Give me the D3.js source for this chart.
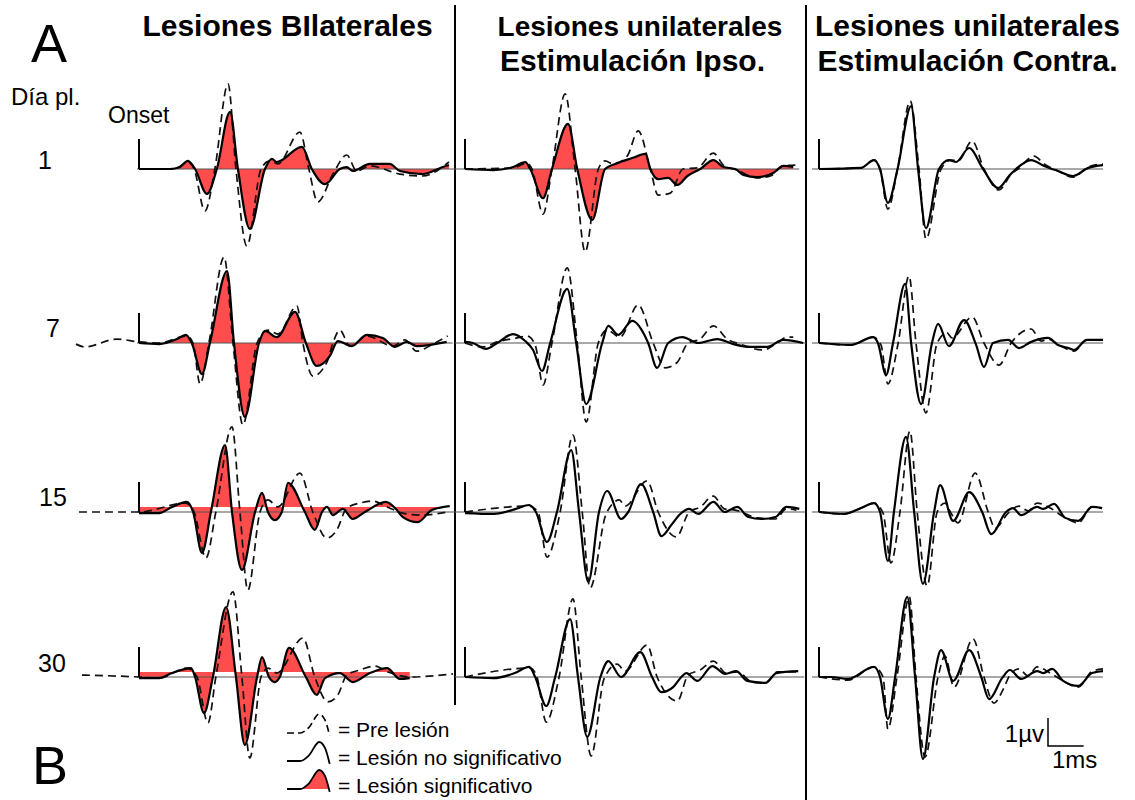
<!DOCTYPE html>
<html>
<head>
<meta charset="utf-8">
<script src="https://cdn.jsdelivr.net/npm/d3@7"></script>
<style>
  html, body { margin: 0; padding: 0; background: #fff; }
  svg { display: block; font-family: "Liberation Sans", Arial, Helvetica, sans-serif; }
</style>
</head>
<body>
<svg id="chart" width="1135" height="800"></svg>
<script>
// ---------------- data ----------------
const days = ["1", "7", "15", "30"];
const groupTitles = [
  ["Lesiones BIlaterales"],
  ["Lesiones unilaterales", "Estimulación Ipso."],
  ["Lesiones unilaterales", "Estimulación Contra."]
];
const legendLabels = ["= Pre lesión", "= Lesión no significativo", "= Lesión significativo"];
const scaleBarLabels = ["1µv", "1ms"];

// Averaged evoked responses, [latency (ms from onset), amplitude (µV)]
// Bilateral lesions
const bilat1Pre = [[0,0],[1.09,0],[1.48,0.25],[1.67,0],[2.0,-1.5],[2.3,0],[2.7,3.04],[2.94,0],[3.27,-2.75],[3.7,0],[3.97,0.29],[4.21,0.18],[4.88,1.32],[5.15,0],[5.42,-1.18],[5.88,-0.18],[6.3,0.5],[6.6,-0.07],[7.0,0.11],[7.91,-0.18],[8.6,-0.25],[9.12,0],[9.4,0.25]];
const bilat1Les = [[0,0],[0.94,0],[1.24,0.07],[1.48,0.29],[1.7,0],[2.06,-0.89],[2.36,0],[2.76,2.04],[3.0,0],[3.36,-2.14],[3.82,0],[4.03,0.36],[4.18,0.25],[4.94,0.79],[5.24,0],[5.64,-0.54],[6.09,0],[6.3,0.07],[6.48,-0.07],[7.0,0.18],[7.6,0.18],[7.91,-0.07],[8.6,-0.18],[9.21,0.07],[9.4,0.14]];
const bilat7Pre = [[-1.91,-0.04],[-1.64,-0.14],[-0.67,0.14],[0,0.04],[0.61,0],[1.45,0.25],[1.64,0],[1.85,-1.46],[2.12,0],[2.58,3.07],[2.85,0],[3.15,-2.93],[3.58,0],[3.91,0.46],[4.21,0.32],[4.79,1.32],[4.97,0],[5.27,-1.18],[5.7,-0.68],[5.88,0],[6.09,0.46],[6.39,-0.11],[6.91,0.25],[7.7,-0.11],[8.06,0.11],[8.42,-0.29],[8.91,-0.04],[9.36,0.25]];
const bilat7Les = [[0,0],[0.61,-0.04],[1.15,0.14],[1.42,0.29],[1.6,0],[1.91,-1.11],[2.15,0],[2.67,2.57],[2.88,0],[3.21,-2.64],[3.64,0],[3.82,0.43],[4.18,0.21],[4.73,1.11],[5.06,0],[5.39,-0.82],[5.79,-0.46],[6.03,0.07],[6.45,-0.11],[6.91,0.29],[7.39,0.18],[7.76,-0.14],[8.12,0.04],[8.42,-0.11],[9.33,0.04]];
const bilat15Pre = [[-1.82,0],[0,0],[1.42,0.32],[1.67,0],[2.03,-1.64],[2.33,0],[2.82,3.04],[3.06,0],[3.3,-2.79],[3.67,0],[3.91,0.43],[4.21,0.18],[4.88,1.39],[5.27,0],[5.7,-0.93],[6.0,-0.64],[6.3,0.14],[6.7,0.32],[7.09,0.39],[7.52,0.18],[8.0,-0.04],[8.52,-0.11],[9.36,0]];
const bilat15Les = [[0,-0.04],[0.61,-0.04],[1.0,0.18],[1.45,0.36],[1.64,0],[1.91,-1.46],[2.18,0],[2.61,2.39],[2.82,0],[3.12,-2.07],[3.52,0],[3.73,0.68],[3.91,0],[4.12,-0.29],[4.33,0],[4.52,1.04],[5.03,0],[5.33,-0.64],[5.55,0],[5.7,0.18],[5.88,-0.11],[6.18,0.11],[6.48,-0.25],[6.85,0],[7.48,0.36],[7.79,0.11],[8.0,-0.18],[8.45,-0.36],[8.88,0.07],[9.42,0.21]];
const bilat30Pre = [[-1.73,0.07],[0,0],[0.61,-0.04],[1.45,0.32],[1.76,0],[2.09,-1.64],[2.33,0],[2.85,3.04],[3.12,0],[3.36,-2.89],[3.7,0],[3.91,0.32],[4.18,0.14],[4.97,1.39],[5.33,0],[5.73,-0.89],[6.03,-0.64],[6.3,0.07],[6.7,0.25],[7.15,0.39],[7.55,0.18],[8.21,0],[9.52,0.11]];
const bilat30Les = [[0,-0.04],[0.61,-0.04],[1.0,0.14],[1.58,0.32],[1.7,0],[1.97,-1.29],[2.24,0],[2.64,2.5],[2.94,0],[3.21,-2.43],[3.58,0],[3.73,0.71],[3.94,0],[4.12,-0.18],[4.27,0],[4.55,1.04],[5.06,0],[5.39,-0.64],[5.64,-0.04],[6.09,0.14],[6.48,-0.18],[7.0,0.14],[7.52,0.32],[7.91,-0.07],[8.21,-0.04]];

// Unilateral lesions, ipsilateral stimulation
const ipsi1Pre = [[0,0],[1.35,0.04],[1.74,0.21],[1.88,0],[2.19,-1.61],[2.44,0],[2.81,2.68],[3.09,0],[3.37,-2.96],[3.74,0],[3.93,0.29],[4.16,0.18],[4.55,0.46],[4.86,1.36],[5.2,0],[5.42,-0.93],[5.76,-0.86],[6.12,0],[6.52,0.04],[6.97,0.57],[7.25,0.14],[7.64,-0.04],[8.2,-0.32],[8.57,-0.25],[8.93,0.11],[9.27,0.14]];
const ipsi1Les = [[0,0],[0.79,-0.04],[1.35,0.07],[1.69,0.25],[1.83,0],[2.19,-1.04],[2.44,0],[2.89,1.61],[3.15,0],[3.57,-1.82],[3.93,0],[4.21,0.18],[4.69,0.39],[5.06,0.54],[5.2,0],[5.42,-0.36],[5.7,-0.32],[5.96,-0.57],[6.24,-0.25],[6.6,0],[6.97,0.32],[7.25,0.07],[7.58,0],[7.81,-0.21],[8.2,-0.29],[8.65,-0.14],[8.93,0.11],[9.21,0.07]];
const ipsi7Pre = [[0,0],[0.51,-0.14],[0.9,0.04],[1.46,0.18],[1.74,0.25],[1.97,-0.07],[2.19,-1.5],[2.44,0],[2.87,2.68],[3.15,0],[3.4,-2.82],[3.74,0],[3.99,0.46],[4.35,0.21],[4.86,1.36],[5.28,0],[5.62,-0.89],[5.96,-0.68],[6.26,0],[6.6,0.14],[6.97,0.61],[7.36,0.14],[7.72,-0.04],[8.37,-0.25],[8.76,0],[9.04,0.21],[9.21,0.21]];
const ipsi7Les = [[0,0.04],[0.22,0],[0.59,-0.21],[0.9,0],[1.35,0.32],[1.69,0.07],[1.91,-0.25],[2.16,-1.0],[2.39,0],[2.87,1.93],[3.12,0],[3.4,-2.18],[3.85,0],[4.02,0.61],[4.3,0.29],[4.69,0.79],[5.14,0],[5.39,-0.89],[5.7,0],[6.1,0.21],[6.54,0],[7.08,0.14],[7.53,-0.04],[8.0,-0.14],[8.48,-0.14],[8.93,0.11],[9.49,0]];
const ipsi15Pre = [[0,0],[1.8,0.21],[2.05,0],[2.3,-1.61],[2.67,0],[3.03,2.75],[3.29,0],[3.51,-2.71],[3.96,-0.07],[4.33,0.43],[4.49,0.21],[5.11,1.11],[5.42,0],[5.93,-0.89],[6.29,0],[6.6,0.18],[6.97,0.57],[7.28,0.11],[7.58,0.07],[8.2,-0.21],[8.71,-0.25],[9.02,0.11],[9.3,0.07]];
const ipsi15Les = [[0,-0.04],[0.81,-0.07],[1.43,0.11],[1.8,0.25],[1.99,0],[2.3,-1.07],[2.58,0],[2.98,2.21],[3.2,0],[3.46,-2.5],[3.76,0],[3.99,0.75],[4.38,-0.25],[4.58,0],[4.94,1.0],[5.28,0],[5.51,-0.86],[5.79,-0.46],[6.04,-0.07],[6.29,0.11],[6.54,-0.07],[6.97,0.36],[7.28,0],[7.64,0.18],[7.95,-0.18],[8.32,-0.25],[8.71,-0.18],[9.02,0.18],[9.38,0.11]];
const ipsi30Pre = [[0,0],[1.83,0.32],[2.02,0],[2.28,-1.61],[2.64,0],[3.03,2.79],[3.26,0],[3.54,-2.82],[3.9,-0.07],[4.27,0.46],[4.49,0.21],[5.11,1.14],[5.39,0],[5.96,-0.86],[6.26,0.07],[6.6,0.25],[6.97,0.57],[7.33,0.14],[7.64,0.18],[8.07,-0.18],[8.43,-0.21],[8.77,0.18],[9.35,0.18]];
const ipsi30Les = [[0,0],[0.79,-0.04],[1.4,0.14],[1.8,0.36],[1.97,0],[2.28,-1.04],[2.53,0],[2.95,2.07],[3.17,0],[3.43,-2.14],[3.8,0],[4.02,0.57],[4.38,0],[4.92,0.89],[5.25,0],[5.51,-0.54],[5.84,-0.36],[6.07,0],[6.21,0.14],[6.52,-0.14],[6.94,0.39],[7.3,0.11],[7.61,0.21],[7.92,-0.14],[8.43,-0.21],[8.74,0.14],[9.35,0.21]];

// Unilateral lesions, contralateral stimulation
const contra1Pre = [[0,0],[1.39,0.04],[1.82,0.32],[2.02,0],[2.28,-1.43],[2.6,0],[3.02,2.43],[3.31,0],[3.54,-2.5],[4.04,0],[4.37,0.32],[4.6,0.29],[5.07,1.0],[5.46,0],[5.96,-0.75],[6.36,-0.18],[6.59,0],[7.12,0.46],[7.45,0.18],[7.91,-0.07],[8.41,-0.29],[8.91,0.07],[9.4,0.18]];
const contra1Les = [[0,0],[1.39,0.04],[1.82,0.32],[2.02,0],[2.28,-1.21],[2.6,0],[3.05,2.25],[3.28,0],[3.54,-2.11],[3.97,0],[4.3,0.32],[4.54,0.25],[4.97,0.75],[5.43,0],[5.93,-0.68],[6.29,-0.25],[6.52,0],[7.02,0.32],[7.45,0.11],[7.91,-0.07],[8.41,-0.25],[8.91,0.04],[9.4,0.14]];
const contra7Pre = [[0,0],[1.06,-0.07],[1.79,0.21],[2.05,-0.07],[2.28,-1.46],[2.62,0],[2.98,2.39],[3.21,0],[3.54,-2.5],[3.91,0],[4.24,0.36],[4.4,0.18],[5.07,0.93],[5.46,0],[5.96,-0.79],[6.36,0],[7.02,0.5],[7.35,0.07],[7.58,0.14],[8.01,-0.11],[8.44,-0.29],[8.87,0.11],[9.4,0.11]];
const contra7Les = [[0,0],[1.06,-0.07],[1.79,0.21],[1.95,0],[2.22,-1.14],[2.45,0],[2.85,2.11],[3.05,0],[3.38,-2.18],[3.74,0],[3.94,0.68],[4.3,-0.11],[4.8,0.82],[5.2,-0.07],[5.46,-0.86],[5.76,0],[6.26,0.11],[6.62,-0.18],[7.02,0.04],[7.58,0.18],[7.91,-0.07],[8.25,-0.18],[8.44,-0.25],[8.87,0.11],[9.4,0.11]];
const contra15Pre = [[0,0],[0.83,-0.07],[1.39,0.14],[1.82,0.32],[2.12,-0.04],[2.38,-1.82],[2.68,0],[3.01,2.89],[3.25,0],[3.58,-2.64],[3.91,0],[4.17,0.32],[4.37,-0.04],[4.6,-0.39],[5.17,1.39],[5.6,0],[5.83,-0.57],[6.26,-0.04],[6.62,0.21],[6.92,0.04],[7.22,0.32],[7.65,0.14],[8.15,-0.21],[8.58,-0.39],[9.04,0.18],[9.37,0.14]];
const contra15Les = [[0,0],[0.83,-0.07],[1.39,0.14],[1.82,0.32],[2.02,0],[2.28,-1.75],[2.48,0],[2.88,2.68],[3.15,0],[3.44,-2.57],[3.81,0],[4.01,0.96],[4.44,-0.32],[4.97,0.71],[5.4,0],[5.7,-0.79],[6.19,0],[6.42,0.14],[6.69,-0.11],[7.22,0.18],[7.42,0.11],[7.78,0.29],[8.15,-0.21],[8.58,-0.32],[9.04,0.18],[9.37,0.14]];
const contra30Pre = [[0,0],[0.96,-0.11],[1.82,0.36],[2.12,0],[2.28,-1.86],[2.58,0],[2.99,2.86],[3.21,0],[3.51,-2.86],[3.94,0],[4.17,0.75],[4.47,-0.36],[5.1,1.36],[5.46,0],[5.79,-0.93],[6.1,-0.43],[6.32,0.07],[6.62,0.29],[6.92,0.04],[7.22,0.36],[7.65,0.14],[8.08,-0.14],[8.58,-0.36],[9.04,0.21],[9.4,0.29]];
const contra30Les = [[0,0],[0.4,0],[0.96,-0.07],[1.82,0.36],[2.02,0],[2.28,-1.5],[2.52,0],[2.92,2.86],[3.18,0],[3.44,-2.93],[3.81,0],[4.04,0.96],[4.44,-0.14],[4.97,0.96],[5.37,0],[5.63,-0.79],[6.06,-0.04],[6.32,0.25],[6.69,-0.07],[7.22,0.21],[7.42,0.14],[7.72,0.29],[8.08,-0.14],[8.58,-0.32],[9.04,0.14],[9.4,0.21]];

// Significant change after lesion, [group][day]
const significant = [
  [true, true, true, true],
  [true, false, false, false],
  [false, false, false, false]
];
// Level (µV) the shaded difference is measured from, [group][day]
const shadeFloor = [
  [0, 0, 0.18, 0.18],
  [0, 0, 0, 0],
  [0, 0, 0, 0]
];
// Legend glyph outline, [fraction of width, fraction of height]
const legendGlyph = [[0,0],[0.3,0],[0.5,0.3],[0.73,1],[0.86,0.7],[0.97,-0.15]];

const preSeries = [
  [bilat1Pre, bilat7Pre, bilat15Pre, bilat30Pre],
  [ipsi1Pre, ipsi7Pre, ipsi15Pre, ipsi30Pre],
  [contra1Pre, contra7Pre, contra15Pre, contra30Pre]
];
const lesSeries = [
  [bilat1Les, bilat7Les, bilat15Les, bilat30Les],
  [ipsi1Les, ipsi7Les, ipsi15Les, ipsi30Les],
  [contra1Les, contra7Les, contra15Les, contra30Les]
];

// ---------------- layout ----------------
const svg = d3.select("#chart");
const RED = "#ff4d4d";
const sweep = [0, 9.4];                 // ms shown per trace
const colOnset = [139, 465, 819];
const colEnd = [449, 800, 1103];
const baseSpan = [[137, 455], [455, 806], [812, 1103]];
const rowBase = [169, 343, 512, 677];
const pxPerUV = 28;
const onsetMarkUV = 1.07;

const xScales = colOnset.map((x0, i) => d3.scaleLinear().domain(sweep).range([x0, colEnd[i]]));
const yScales = rowBase.map(b => d3.scaleLinear().domain([-1, 1]).range([b + pxPerUV, b - pxPerUV]));

// column separators
svg.append("line").attr("x1", 455).attr("x2", 455).attr("y1", 5).attr("y2", 705)
  .attr("stroke", "#000").attr("stroke-width", 2);
svg.append("line").attr("x1", 806).attr("x2", 806).attr("y1", 5).attr("y2", 800)
  .attr("stroke", "#000").attr("stroke-width", 2);

// traces
groupTitles.forEach((_, c) => {
  days.forEach((d, r) => {
    const x = xScales[c], y = yScales[r];
    const g = svg.append("g").attr("class", `panel g${c} d${d}`);
    const pre = preSeries[c][r], les = lesSeries[c][r];
    const line = d3.line().x(p => x(p[0])).y(p => y(p[1])).curve(d3.curveMonotoneX);

    if (significant[c][r]) {
      const area = d3.area()
        .x(p => x(p[0]))
        .y0(y(shadeFloor[c][r]))
        .y1(p => y(p[1]))
        .curve(d3.curveMonotoneX);
      g.append("path").datum(les).attr("d", area).attr("fill", RED);
    }

    const lastT = les[les.length - 1][0];
    g.append("line")
      .attr("x1", baseSpan[c][0])
      .attr("x2", Math.min(baseSpan[c][1], x(lastT) + 6))
      .attr("y1", y(0)).attr("y2", y(0))
      .attr("stroke", "#555").attr("stroke-width", 1.2);

    g.append("path").datum(pre).attr("d", line)
      .attr("fill", "none").attr("stroke", "#111").attr("stroke-width", 1.7)
      .attr("stroke-dasharray", "8,5");
    g.append("path").datum(les).attr("d", line)
      .attr("fill", "none").attr("stroke", "#000").attr("stroke-width", 2.2)
      .attr("stroke-linejoin", "round");

    // stimulus onset marker
    g.append("line")
      .attr("x1", x(0)).attr("x2", x(0))
      .attr("y1", y(0)).attr("y2", y(onsetMarkUV))
      .attr("stroke", "#000").attr("stroke-width", 2);
  });
});

// group titles
const titleCfg = [
  [{ x: 287.5, y: 36, size: 30 }],
  [{ x: 640, y: 36, size: 28 }, { x: 632.5, y: 71, size: 30 }],
  [{ x: 967.5, y: 36, size: 30 }, { x: 967.5, y: 71, size: 30 }]
];
groupTitles.forEach((lines, c) => {
  lines.forEach((t, i) => {
    const cfg = titleCfg[c][i];
    svg.append("text").attr("x", cfg.x).attr("y", cfg.y)
      .attr("text-anchor", "middle").attr("font-weight", "bold")
      .attr("font-size", cfg.size).attr("fill", "#000").text(t);
  });
});

// panel letters and row headings
svg.append("text").attr("x", 31).attr("y", 62).attr("font-size", 54).text("A");
svg.append("text").attr("x", 32).attr("y", 784).attr("font-size", 54).text("B");
svg.append("text").attr("x", 11).attr("y", 105).attr("font-size", 24).text("Día pl.");
svg.append("text").attr("x", 108).attr("y", 123).attr("font-size", 23).text("Onset");
const dayLabelX = [38, 46, 39, 38];
const dayLabelY = [169, 337, 506, 672];
days.forEach((d, r) => {
  svg.append("text").attr("x", dayLabelX[r]).attr("y", dayLabelY[r])
    .attr("font-size", 25).text(d);
});

// legend
const legendBase = [733, 761, 789];
const iconX = d3.scaleLinear().domain([0, 1]).range([287, 331]);
legendLabels.forEach((lab, i) => {
  const iconY = d3.scaleLinear().domain([0, 1]).range([legendBase[i], legendBase[i] - 19]);
  const gl = d3.line().x(p => iconX(p[0])).y(p => iconY(p[1])).curve(d3.curveMonotoneX);
  if (i === 2) {
    const ga = d3.area().x(p => iconX(p[0])).y0(iconY(0)).y1(p => iconY(p[1])).curve(d3.curveMonotoneX);
    svg.append("path").datum(legendGlyph).attr("d", ga).attr("fill", RED);
  }
  svg.append("path").datum(legendGlyph).attr("d", gl)
    .attr("fill", "none").attr("stroke", "#000")
    .attr("stroke-width", i === 0 ? 1.6 : 1.8)
    .attr("stroke-dasharray", i === 0 ? "7,4" : null);
  svg.append("text").attr("x", 338).attr("y", legendBase[i] + 3.5)
    .attr("font-size", 21).text(lab);
});

// calibration bar: 1 µV by 1 ms
const barX = 1048, barY = 746;
const barH = yScales[0](0) - yScales[0](1);
const barW = xScales[1](1) - xScales[1](0);
svg.append("path")
  .attr("d", `M${barX},${barY - barH}V${barY}H${barX + barW}`)
  .attr("fill", "none").attr("stroke", "#000").attr("stroke-width", 1.5);
svg.append("text").attr("x", barX - 4).attr("y", barY - 4)
  .attr("text-anchor", "end").attr("font-size", 24).text(scaleBarLabels[0]);
svg.append("text").attr("x", barX + 4).attr("y", barY + 22)
  .attr("font-size", 24).text(scaleBarLabels[1]);
</script>
</body>
</html>
